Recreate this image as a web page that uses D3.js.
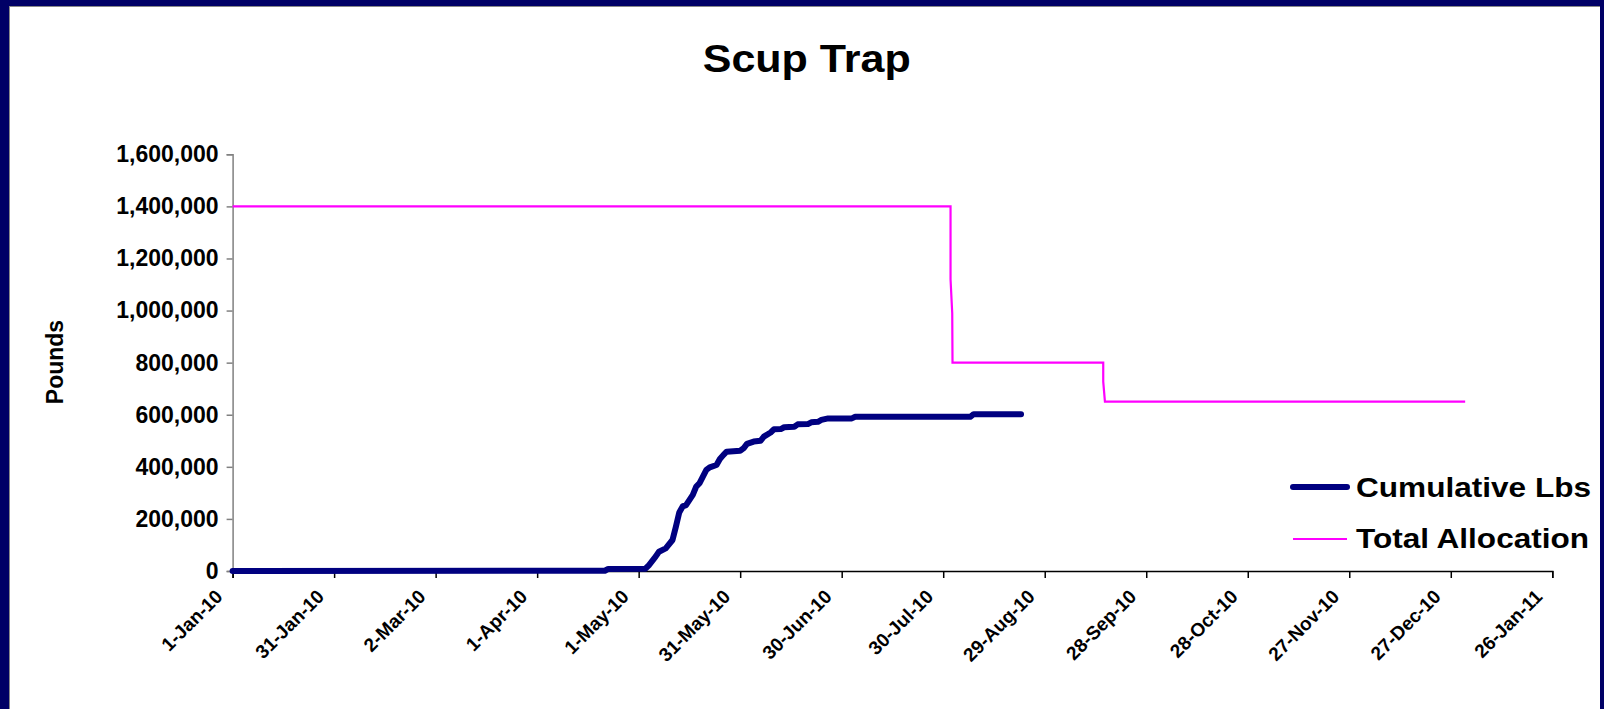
<!DOCTYPE html>
<html>
<head>
<meta charset="utf-8">
<script src="https://cdn.jsdelivr.net/npm/d3@7"></script>
<style>
  html, body { margin: 0; padding: 0; background: #000066; }
  svg { display: block; }
  text { font-family: "Liberation Sans", Arial, sans-serif; font-weight: bold; fill: #000; }
</style>
</head>
<body>
<svg id="chart" width="1604" height="709"></svg>
<script>
// ---- data ----
const chartTitle = "Scup Trap";
const yTitle = "Pounds";
const seriesNames = ["Cumulative Lbs", "Total Allocation"];

const cumulativeDates = ["2010-01-01","2010-04-21","2010-04-22","2010-05-03","2010-05-04","2010-05-06","2010-05-07","2010-05-09","2010-05-11","2010-05-12","2010-05-13","2010-05-14","2010-05-15","2010-05-17","2010-05-18","2010-05-19","2010-05-21","2010-05-22","2010-05-24","2010-05-25","2010-05-26","2010-05-27","2010-05-31","2010-06-01","2010-06-02","2010-06-04","2010-06-06","2010-06-07","2010-06-09","2010-06-10","2010-06-12","2010-06-13","2010-06-16","2010-06-17","2010-06-20","2010-06-21","2010-06-23","2010-06-24","2010-06-26","2010-07-03","2010-07-04","2010-08-07","2010-08-08","2010-08-22"];
const cumulativeLbs = [0,1000,8000,9000,22000,55000,74000,87000,119000,170000,225000,248000,253000,292000,324000,337000,388000,398000,407000,430000,445000,458000,462000,471000,488000,497000,500000,516000,532000,544000,545000,552000,554000,563000,564000,571000,573000,580000,586000,586000,592000,592000,602000,602000];

const allocationDates = ["2010-01-01T00:00","2010-08-01T04:00","2010-08-01T04:00","2010-08-01T16:00","2010-08-01T18:00","2010-09-15T07:00","2010-09-15T07:00","2010-09-15T19:00","2010-12-31T06:00"];
const allocationLbs = [1400000,1400000,1120000,990000,800000,800000,727000,650000,650000];

const xTickDates = ["2010-01-01","2010-01-31","2010-03-02","2010-04-01","2010-05-01","2010-05-31","2010-06-30","2010-07-30","2010-08-29","2010-09-28","2010-10-28","2010-11-27","2010-12-27","2011-01-26"];
const yTicks = [0,200000,400000,600000,800000,1000000,1200000,1400000,1600000];

// ---- setup ----
const parse = d3.utcParse("%Y-%m-%d");
const parseT = d3.utcParse("%Y-%m-%dT%H:%M");
const svg = d3.select("#chart");

svg.append("rect").attr("x",0).attr("y",0).attr("width",1604).attr("height",709).attr("fill","#000066");
svg.append("rect").attr("x",9).attr("y",6).attr("width",1591).attr("height",703).attr("fill","#ffffff");
svg.append("line").attr("x1",9.5).attr("x2",9.5).attr("y1",6).attr("y2",709).attr("stroke","#888").attr("stroke-width",1);
svg.append("line").attr("x1",9).attr("x2",1600).attr("y1",6.5).attr("y2",6.5).attr("stroke","#888").attr("stroke-width",1);

const x = d3.scaleUtc()
  .domain([parse("2010-01-01"), parse("2011-01-26")])
  .range([232.6, 1552.3]);
const y = d3.scaleLinear().domain([0, 1600000]).range([571, 154.3]);

// title
svg.append("text").attr("x", 806.7).attr("y", 72)
  .attr("text-anchor","middle").attr("font-size", 38)
  .attr("textLength", 208).attr("lengthAdjust","spacingAndGlyphs")
  .text(chartTitle);

// y axis title
svg.append("text").attr("transform","translate(63,362) rotate(-90)")
  .attr("text-anchor","middle").attr("font-size", 23)
  .text(yTitle);

// y axis
const yAxis = d3.axisLeft(y).tickValues(yTicks).tickSize(6).tickPadding(8)
  .tickFormat(d3.format(","));
const gy = svg.append("g").attr("transform","translate(232.6,0)").call(yAxis);
gy.select(".domain").attr("stroke","#808080").attr("stroke-width",1.5);
gy.selectAll(".tick line").attr("stroke","#808080").attr("stroke-width",1.5);
gy.selectAll(".tick text").attr("font-size",23).attr("font-family","Liberation Sans, Arial, sans-serif")
  .attr("font-weight","bold").attr("fill","#000");

// x axis
const xAxis = d3.axisBottom(x).tickValues(xTickDates.map(parse)).tickSize(7)
  .tickFormat(d3.utcFormat("%-d-%b-%y"));
const gx = svg.append("g").attr("transform","translate(0,571)").call(xAxis);
gx.select(".domain").attr("stroke","#000").attr("stroke-width",1.5);
gx.selectAll(".tick line").attr("stroke","#000").attr("stroke-width",1.5);
gx.selectAll(".tick text")
  .attr("font-size",19).attr("font-family","Liberation Sans, Arial, sans-serif")
  .attr("font-weight","bold").attr("fill","#000")
  .attr("text-anchor","end")
  .attr("y",0).attr("dy","0.35em")
  .attr("transform","translate(-14,22) rotate(-45)");

// lines
const lineGen = d3.line().x(d => x(d.date)).y(d => y(d.value));

const allocData = allocationDates.map((d,i) => ({date: parseT(d), value: allocationLbs[i]}));
svg.append("path").datum(allocData).attr("d", lineGen)
  .attr("fill","none").attr("stroke","#ff00ff").attr("stroke-width",2.2);

const cumData = cumulativeDates.map((d,i) => ({date: parse(d), value: cumulativeLbs[i]}));
svg.append("path").datum(cumData).attr("d", lineGen)
  .attr("fill","none").attr("stroke","#000080").attr("stroke-width",6)
  .attr("stroke-linejoin","round").attr("stroke-linecap","round");

// legend
const lg = svg.append("g");
lg.append("line").attr("x1",1293).attr("x2",1347).attr("y1",487).attr("y2",487)
  .attr("stroke","#000080").attr("stroke-width",6).attr("stroke-linecap","round");
lg.append("text").attr("x",1356).attr("y",497).attr("font-size",28)
  .attr("textLength",235).attr("lengthAdjust","spacingAndGlyphs").text(seriesNames[0]);
lg.append("line").attr("x1",1293).attr("x2",1347).attr("y1",539).attr("y2",539)
  .attr("stroke","#ff00ff").attr("stroke-width",2.2);
lg.append("text").attr("x",1356).attr("y",548).attr("font-size",28)
  .attr("textLength",233).attr("lengthAdjust","spacingAndGlyphs").text(seriesNames[1]);
</script>
</body>
</html>
